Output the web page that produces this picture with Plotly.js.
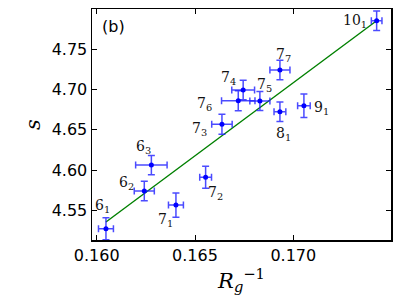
<!DOCTYPE html>
<html>
<head>
<meta charset="utf-8">
<script src="https://cdn.plot.ly/plotly-3.0.1.min.js"></script>
<style>html,body{margin:0;padding:0;background:#fff;}#chart{width:399px;height:299px;}</style>
</head>
<body>
<div id="chart"></div>
<script>
// Data
var labels = ["6_1","6_2","6_3","7_1","7_2","7_3","7_6","7_4","7_5","7_7","8_1","9_1","10_1"];
var invRg  = [0.16047,0.16242,0.16278,0.16403,0.16554,0.16637,0.16720,0.16745,0.16830,0.16932,0.16932,0.17054,0.17424];
var sVals  = [4.5276,4.5743,4.6064,4.5569,4.5912,4.6568,4.6860,4.6993,4.6856,4.7240,4.6724,4.6798,4.7850];
var errX   = [0.00038,0.00051,0.00080,0.00038,0.00030,0.00052,0.00085,0.00058,0.00051,0.00051,0.00030,0.00032,0.00027];
var errY   = [0.0136,0.0120,0.0120,0.0149,0.0136,0.0124,0.0124,0.0120,0.0118,0.0120,0.0120,0.0145,0.0120];
var fitX   = [0.16047,0.17424];
var fitY   = [4.5359,4.7850];
var xTicks = [0.160,0.165,0.170];
var yTicks = [4.55,4.60,4.65,4.70,4.75];

// label offsets (pixels, right / down) -- styling, not data
var labelDx = [-3,-18,-8,-10,10,-22,-34,-15,5,4,4,18,-22];
var labelDy = [-23,-8,-18,15,16,5,3,-12,-16,-15,22,2,0];

var annotations = labels.map(function(l,i){
  var p = l.split("_");
  return {x: invRg[i], y: sVals[i], xref:"x", yref:"y",
    text: p[0] + "<sub>" + p[1] + "</sub>", showarrow:false,
    xshift: labelDx[i], yshift: -labelDy[i],
    font:{family:"DejaVu Serif", size:14, color:"#111"}};
});
annotations.push({xref:"paper", yref:"paper", x:0.027, y:0.975, xanchor:"left", yanchor:"top",
  text:"(b)", showarrow:false, font:{family:"DejaVu Sans", size:16, color:"#000"}});

var traces = [
  {x: fitX, y: fitY, mode:"lines", type:"scatter", line:{color:"#008000", width:1.4}, hoverinfo:"skip"},
  {x: invRg, y: sVals, mode:"markers", type:"scatter",
   marker:{color:"#0000ff", size:5},
   error_x:{type:"data", array: errX, visible:true, color:"rgba(30,30,255,0.8)", thickness:1.5, width:3.5},
   error_y:{type:"data", array: errY, visible:true, color:"rgba(30,30,255,0.8)", thickness:1.5, width:3.5}}
];

var axisCommon = {showgrid:false, zeroline:false, showline:true, linecolor:"#000", linewidth:1.5,
  mirror:"allticks", ticks:"inside", ticklen:5, tickwidth:1, tickcolor:"#000",
  tickfont:{family:"DejaVu Sans", size:16, color:"#000"}};

var layout = {
  width:399, height:299,
  margin:{l:92, r:8, t:9, b:59, pad:0},
  paper_bgcolor:"#fff", plot_bgcolor:"#fff",
  showlegend:false,
  xaxis: Object.assign({}, axisCommon, {
    range:[0.15976,0.17497], tickvals:xTicks, ticktext:xTicks.map(function(v){return v.toFixed(3);}),
    title:{text:"<i>R</i><sub><i>g</i></sub><sup>−1</sup>", font:{family:"DejaVu Serif", size:21, color:"#000"}, standoff:6}
  }),
  yaxis: Object.assign({}, axisCommon, {
    range:[4.5137,4.7995], tickvals:yTicks, ticktext:yTicks.map(function(v){return v.toFixed(2);}),
    title:{text:"<i>s</i>", font:{family:"DejaVu Serif", size:21, color:"#000"}, standoff:5}
  }),
  annotations: annotations
};

Plotly.newPlot("chart", traces, layout, {staticPlot:true, displayModeBar:false});
</script>
</body>
</html>
